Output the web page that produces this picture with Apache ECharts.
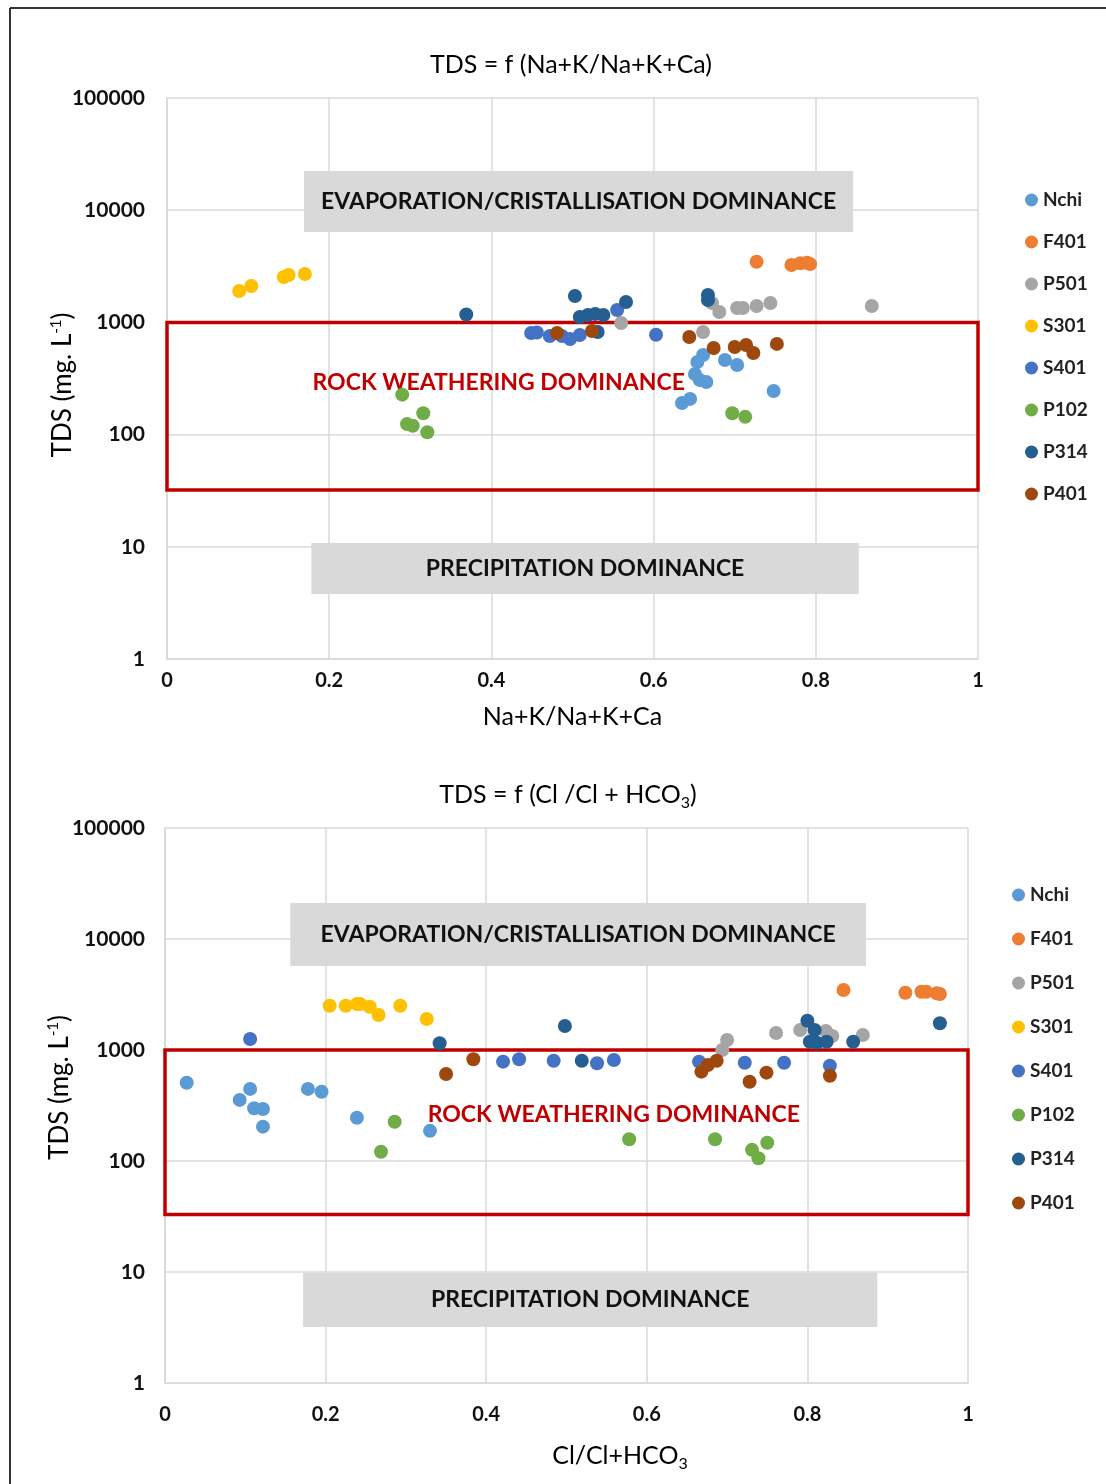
<!DOCTYPE html>
<html>
<head>
<meta charset="utf-8">
<style>
  html, body { margin: 0; padding: 0; background: #ffffff; }
  #chart { width: 1106px; height: 1484px; }
</style>
<script src="https://cdn.jsdelivr.net/npm/echarts@6/dist/echarts.min.js"></script>
</head>
<body>
<div id="chart"></div>
<script>
// ---- Data ----
const seriesNames = ['Nchi', 'F401', 'P501', 'S301', 'S401', 'P102', 'P314', 'P401'];
const seriesColors = ['#5b9bd5', '#ed7d31', '#a5a5a5', '#ffc000', '#4472c4', '#70ad47', '#255e91', '#9e480e'];
const yTickLabels = ['1', '10', '100', '1000', '10000', '100000'];
const xTickLabels = ['0', '0.2', '0.4', '0.6', '0.8', '1'];

// Chart 1: TDS vs Na+K/(Na+K+Ca)
const nchiNa = [[0.661,512],[0.654,444],[0.651,347],[0.657,307],[0.665,294],[0.688,462],[0.703,417],[0.635,191],[0.645,208],[0.748,245]];
const f401Na = [[0.727,3475],[0.770,3250],[0.781,3365],[0.789,3405],[0.793,3310]];
const p501Na = [[0.560,988],[0.661,820],[0.672,1489],[0.681,1238],[0.703,1343],[0.710,1343],[0.727,1400],[0.744,1489],[0.869,1400]];
const s301Na = [[0.089,1905],[0.104,2110],[0.144,2540],[0.150,2645],[0.170,2700]];
const s401Na = [[0.449,805],[0.456,813],[0.472,757],[0.487,757],[0.497,711],[0.509,773],[0.555,1290],[0.603,777]];
const p102Na = [[0.290,227],[0.316,155],[0.296,124],[0.303,120],[0.321,105],[0.697,155],[0.713,144]];
const p314Na = [[0.369,1175],[0.503,1720],[0.566,1520],[0.509,1117],[0.519,1165],[0.528,1190],[0.538,1165],[0.531,820],[0.667,1755],[0.667,1585]];
const p401Na = [[0.481,805],[0.524,838],[0.644,741],[0.674,591],[0.700,604],[0.714,629],[0.723,534],[0.752,643]];

// Chart 2: TDS vs Cl/(Cl+HCO3)
const nchiCl = [[0.027,507],[0.106,446],[0.093,355],[0.111,299],[0.122,294],[0.122,204],[0.178,446],[0.195,421],[0.239,245],[0.330,187]];
const f401Cl = [[0.845,3472],[0.922,3282],[0.942,3350],[0.948,3350],[0.961,3243],[0.965,3200]];
const p501Cl = [[0.700,1230],[0.694,1000],[0.761,1422],[0.791,1514],[0.823,1482],[0.831,1337],[0.869,1365]];
const s301Cl = [[0.205,2505],[0.225,2505],[0.239,2596],[0.243,2596],[0.255,2455],[0.266,2067],[0.293,2505],[0.326,1903]];
const s401Cl = [[0.106,1256],[0.421,785],[0.441,825],[0.484,801],[0.538,759],[0.559,813],[0.665,785],[0.722,768],[0.771,768],[0.828,722]];
const p102Cl = [[0.286,226],[0.269,121],[0.578,157],[0.685,157],[0.731,126],[0.739,106],[0.750,146]];
const p314Cl = [[0.342,1149],[0.498,1644],[0.519,801],[0.800,1836],[0.809,1514],[0.803,1188],[0.812,1164],[0.824,1188],[0.857,1188],[0.965,1741]];
const p401Cl = [[0.384,825],[0.350,608],[0.668,638],[0.676,733],[0.687,801],[0.728,518],[0.749,625],[0.828,587]];

const naSeries = [nchiNa, f401Na, p501Na, s301Na, s401Na, p102Na, p314Na, p401Na];
const clSeries = [nchiCl, f401Cl, p501Cl, s301Cl, s401Cl, p102Cl, p314Cl, p401Cl];

// ---- Chart ----
const FONT = 'Lato';
const chart = echarts.init(document.getElementById('chart'), null, { renderer: 'canvas' });

function yAxisFor(gridIndex, margin, nameGap, namePad) {
  return {
    type: 'log', logBase: 10, min: 1, max: 100000, gridIndex: gridIndex,
    name: 'TDS (mg. L{sup|-1})',
    nameLocation: 'middle', nameGap: nameGap, nameRotate: 90, nameMoveOverlap: false,
    nameTextStyle: {
      fontFamily: FONT, fontSize: 26, color: '#000', padding: namePad, lineHeight: 28,
      rich: { sup: { fontFamily: FONT, fontSize: 15, color: '#000', verticalAlign: 'top', lineHeight: 28 } }
    },
    axisLine: { show: true, lineStyle: { color: '#d9d9d9', width: 1.5 } },
    axisTick: { show: false },
    splitLine: { show: true, lineStyle: { color: '#d9d9d9', width: 1.5 } },
    axisLabel: {
      margin: margin, fontFamily: FONT, fontSize: 21, fontWeight: 'bold', color: '#111',
      formatter: function (v) { return yTickLabels[Math.round(Math.log10(v))]; }
    }
  };
}
function xAxisFor(gridIndex, margin, name, nameGap, namePad) {
  return {
    type: 'value', min: 0, max: 1, interval: 0.2, gridIndex: gridIndex,
    name: name, nameLocation: 'middle', nameGap: nameGap,
    nameTextStyle: {
      fontFamily: FONT, fontSize: 25, color: '#000', padding: namePad, lineHeight: 28,
      rich: { sub: { fontFamily: FONT, fontSize: 16, color: '#000', verticalAlign: 'bottom', lineHeight: 32 } }
    },
    axisLine: { show: true, lineStyle: { color: '#d9d9d9', width: 1.5 } },
    axisTick: { show: false },
    splitLine: { show: true, lineStyle: { color: '#d9d9d9', width: 1.5 } },
    axisLabel: {
      margin: margin, fontFamily: FONT, fontSize: 20, fontWeight: 'bold', color: '#111',
      formatter: function (v) { return xTickLabels[Math.round(v / 0.2)]; }
    }
  };
}

function annotationSeries(idx, evap, precip, redBox, redText) {
  const grayBox = { color: '#d9d9d9', borderWidth: 0 };
  const grayLabel = { show: true, position: 'inside', fontFamily: FONT, fontSize: 23, fontWeight: 'bold', color: '#111' };
  return {
    type: 'scatter', name: '_annot' + idx, xAxisIndex: idx, yAxisIndex: idx, data: [], silent: true,
    markArea: {
      silent: true,
      data: [
        [{ coord: [evap[0], evap[2]], itemStyle: grayBox, label: Object.assign({ formatter: 'EVAPORATION/CRISTALLISATION DOMINANCE' }, grayLabel) },
         { coord: [evap[1], evap[3]] }],
        [{ coord: [precip[0], precip[2]], itemStyle: grayBox, label: Object.assign({ formatter: 'PRECIPITATION DOMINANCE' }, grayLabel) },
         { coord: [precip[1], precip[3]] }],
        [{ coord: [redBox[0], redBox[2]], itemStyle: { color: 'rgba(0,0,0,0)', borderColor: '#c00000', borderWidth: 3.5 }, label: { show: false } },
         { coord: [redBox[1], redBox[3]] }]
      ]
    },
    markPoint: {
      silent: true, symbol: 'circle', symbolSize: 1, itemStyle: { color: 'rgba(0,0,0,0)' },
      data: [{ coord: redText, label: { show: true, position: 'inside', formatter: 'ROCK WEATHERING DOMINANCE',
        fontFamily: FONT, fontSize: 23, fontWeight: 'bold', color: '#c00000' } }]
    }
  };
}

const series = [];
seriesNames.forEach(function (n, i) {
  series.push({ type: 'scatter', name: n, xAxisIndex: 0, yAxisIndex: 0, data: naSeries[i],
    symbol: 'circle', symbolSize: 14, itemStyle: { color: seriesColors[i], opacity: 1 }, z: 3 + i });
});
seriesNames.forEach(function (n, i) {
  series.push({ type: 'scatter', name: n, xAxisIndex: 1, yAxisIndex: 1, data: clSeries[i],
    symbol: 'circle', symbolSize: 14, itemStyle: { color: seriesColors[i], opacity: 1 }, z: 3 + i });
});
series.push(annotationSeries(0, [0.169, 0.846, 6390, 22300], [0.178, 0.853, 3.8, 10.8], [0, 1, 32, 1000], [0.409, 288]));
series.push(annotationSeries(1, [0.156, 0.873, 5720, 21100], [0.172, 0.887, 3.2, 9.8], [0, 1, 33, 1000], [0.559, 260]));

const legendCommon = {
  orient: 'vertical', data: seriesNames, icon: 'circle', itemWidth: 13, itemHeight: 13, padding: 0,
  textStyle: { fontFamily: FONT, fontSize: 19, fontWeight: 'bold', color: '#222', lineHeight: 20 },
  selectedMode: false
};

const option = {
  backgroundColor: '#ffffff',
  animation: false,
  color: seriesColors,
  title: [
    { text: 'TDS = f (Na+K/Na+K+Ca)', left: 566, top: 47, textAlign: 'center',
      textStyle: { fontFamily: FONT, fontSize: 25, fontWeight: 'normal', color: '#000' } },
    { text: 'TDS = f (Cl /Cl + HCO{sub|3})', left: 563, top: 774, textAlign: 'center',
      textStyle: { fontFamily: FONT, fontSize: 25, fontWeight: 'normal', color: '#000', lineHeight: 28,
        rich: { sub: { fontFamily: FONT, fontSize: 16, color: '#000', verticalAlign: 'bottom', lineHeight: 32 } } } }
  ],
  grid: [
    { left: 167, top: 98, width: 811, height: 561, containLabel: false },
    { left: 165, top: 828, width: 803, height: 555, containLabel: false }
  ],
  xAxis: [
    xAxisFor(0, 12, 'Na+K/Na+K+Ca', 44, [0, 0, 0, 0]),
    xAxisFor(1, 22, 'Cl/Cl+HCO{sub|3}', 57, [0, 0, 0, 107])
  ],
  yAxis: [
    yAxisFor(0, 22, 90, [0, 13, 0, 0]),
    yAxisFor(1, 20, 91, [0, 0, 0, 36])
  ],
  legend: [
    Object.assign({ left: 1025, top: 190, itemGap: 22 }, legendCommon),
    Object.assign({ left: 1012, top: 885, itemGap: 24 }, legendCommon)
  ],
  graphic: [
    { type: 'line', shape: { x1: 10, y1: 8, x2: 10, y2: 1484 }, style: { stroke: '#333', lineWidth: 2 }, silent: true },
    { type: 'line', shape: { x1: 10, y1: 8, x2: 1106, y2: 8 }, style: { stroke: '#333', lineWidth: 2 }, silent: true }
  ],
  series: series
};
chart.setOption(option);
</script>
</body>
</html>
